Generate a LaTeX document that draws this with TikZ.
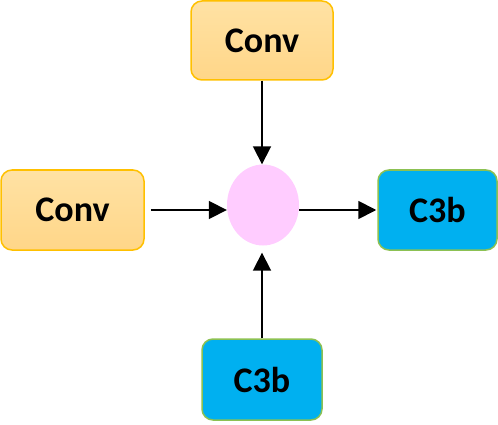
\documentclass[tikz,border=0pt]{standalone}
\usepackage{fontspec}
\setmainfont{Carlito}
\usetikzlibrary{arrows.meta,shapes.geometric}
\definecolor{convtop}{HTML}{FFE2A4}
\definecolor{convbot}{HTML}{FFD688}
\definecolor{convedge}{HTML}{FFC000}
\definecolor{cfill}{HTML}{00B0F0}
\definecolor{cedge}{HTML}{8CC152}
\definecolor{ellfill}{HTML}{FFCCFF}
\begin{document}
\begin{tikzpicture}[x=1pt,y=-1pt,
  convbox/.style={draw=convedge,line width=1.5pt,rounded corners=11pt,top color=convtop,bottom color=convbot,
    minimum width=142pt,minimum height=79pt,inner sep=0pt,font=\fontsize{36}{42}\selectfont\bfseries},
  cbox/.style={draw=cedge,line width=1.5pt,rounded corners=11pt,fill=cfill,
    minimum width=119pt,minimum height=80pt,inner sep=0pt,font=\fontsize{36}{42}\selectfont\bfseries},
  joinnode/.style={ellipse,fill=ellfill,minimum width=72pt,minimum height=81pt,inner sep=0pt},
  arr/.style={line width=1.8pt,-{Triangle[length=18pt,width=18pt]}}]
\useasboundingbox (0,0) rectangle (498,425);
\node[convbox] (top) at (262,40.5) {Conv};
\node[convbox,minimum width=143pt,minimum height=80pt] (left) at (72.5,210) {Conv};
\node[joinnode] (ell) at (263,205) {};
\node[cbox] (right) at (437.5,210) {C3b};
\node[cbox,minimum width=120pt,minimum height=81pt] (bot) at (262,379.5) {C3b};
\draw[arr] (top.south) -- (top.south |- ell.north);
\draw[arr,shorten <=6pt] (left.east) -- (ell.west |- left.east);
\draw[arr,shorten >=1pt] (ell.east |- right.west) -- (right.west);
\draw[arr,shorten >=7pt] (bot.north) -- (bot.north |- ell.south);
\end{tikzpicture}
\end{document}
